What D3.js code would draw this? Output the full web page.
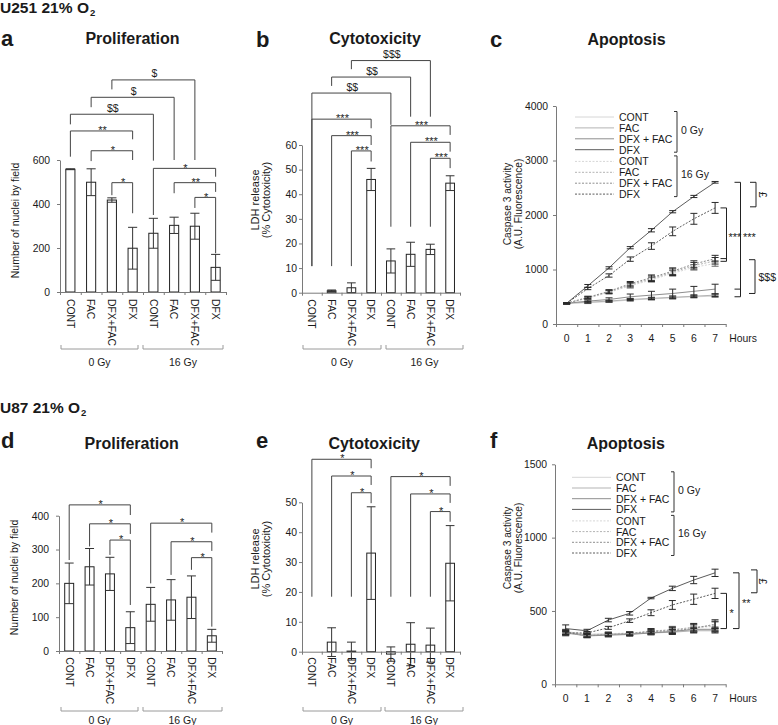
<!DOCTYPE html>
<html>
<head>
<meta charset="utf-8">
<script src="https://cdn.jsdelivr.net/npm/d3@7/dist/d3.min.js"></script>
<style>
html,body{margin:0;padding:0;background:#fff;}
svg{display:block;opacity:0.999;}
text{-webkit-font-smoothing:antialiased;}
</style>
</head>
<body>
<svg id="fig" width="778" height="725"></svg>
<script>
// ================= DATA =================
const categories = ["CONT","FAC","DFX+FAC","DFX","CONT","FAC","DFX+FAC","DFX"];
const doseGroups = ["0 Gy","16 Gy"];
const hours = ["0","1","2","3","4","5","6","7"];
const treatments = ["CONT","FAC","DFX + FAC","DFX"];

// (a) U251 proliferation (nuclei per field)
const prolifU251 = [558, 499, 418, 199, 267, 303, 299, 112];
const prolifU251Err = [2, 61, 10, 95, 68, 37, 59, 59];
const prolifU251Ticks = [0, 200, 400, 600];
// [from, to, level, left leg end, right leg end, label]  (data units)
const prolifU251Sig = [
  [2, 6, 964, 921, 600, "$"],
  [1, 5, 885, 840, 600, "$"],
  [0, 4, 808, 762, 597, "$$"],
  [0, 3, 732, 615, 694, "**"],
  [1, 3, 642, 595, 600, "*"],
  [2, 3, 497, 440, 358, "*"],
  [4, 7, 562, 350, 524, "*"],
  [5, 7, 497, 449, 455, "**"],
  [6, 7, 430, 382, 176, "*"]
];

// (b) U251 cytotoxicity (% LDH release)
const cytoU251 = [0, 0.8, 2, 46, 12.9, 15.6, 17.6, 44.5];
const cytoU251Err = [0, 0.3, 2, 4.5, 4.9, 4.9, 2.1, 3];
const cytoU251Ticks = [0, 10, 20, 30, 40, 50, 60];
const cytoU251Sig = [
  [2, 6, 94.3, 90.8, 71.5, "$$$"],
  [1, 5, 87.6, 84.0, 71.5, "$$"],
  [0, 4, 81.1, 10.8, 68.2, "$$"],
  [0, 3, 70.5, 10.8, 66.8, "***"],
  [1, 3, 63.8, 10.8, 60.0, "***"],
  [2, 3, 57.6, 10.8, 53.3, "***"],
  [4, 7, 67.8, 26.8, 64.1, "***"],
  [5, 7, 61.1, 26.8, 57.3, "***"],
  [6, 7, 54.6, 26.8, 50.6, "***"]
];

// (c) U251 caspase 3 activity
const c0_CONT   = [380, 390, 410, 440, 460, 480, 500, 510];
const c0_FAC    = [380, 400, 420, 450, 470, 490, 510, 530];
const c0_DFXFAC = [380, 420, 450, 500, 530, 560, 600, 640];
const c0_DFX    = [380, 700, 1030, 1400, 1720, 2060, 2340, 2600];
const c16_CONT   = [380, 470, 580, 700, 810, 930, 1040, 1110];
const c16_FAC    = [380, 480, 590, 720, 830, 950, 1070, 1160];
const c16_DFXFAC = [380, 490, 600, 740, 850, 970, 1100, 1200];
const c16_DFX    = [380, 650, 890, 1190, 1430, 1700, 1930, 2130];
const c0_CONT_err   = [10, 15, 15, 20, 20, 20, 20, 20];
const c0_FAC_err    = [10, 15, 15, 20, 20, 25, 25, 25];
const c0_DFXFAC_err = [10, 20, 30, 50, 70, 80, 90, 90];
const c0_DFX_err    = [10, 25, 20, 20, 30, 20, 20, 15];
const c16_CONT_err   = [10, 20, 30, 40, 40, 50, 50, 50];
const c16_FAC_err    = [10, 20, 30, 40, 50, 60, 60, 60];
const c16_DFXFAC_err = [10, 20, 30, 40, 50, 60, 60, 60];
const c16_DFX_err    = [10, 20, 30, 40, 60, 80, 100, 100];
const casU251Ticks = [0, 1000, 2000, 3000, 4000];
const casU251Sig = [
  [[2130, 1200, 1150], "***"],
  [[2600, 640, 500], "***"],
  [[2600, 2150], "£"],
  [[1180, 560], "$$$"]
];

// (d) U87 proliferation
const prolifU87 = [200, 249, 228, 69, 138, 151, 159, 45];
const prolifU87Err = [60, 54, 49, 47, 50, 60, 63, 19];
const prolifU87Ticks = [0, 100, 200, 300, 400];
const prolifU87Sig = [
  [0, 3, 432, 269, 402, "*"],
  [1, 3, 376, 309, 346, "*"],
  [2, 3, 328, 284, 136, "*"],
  [4, 7, 378, 200, 350, "*"],
  [5, 7, 323, 225, 296, "*"],
  [6, 7, 276, 240, 72, "*"]
];

// (e) U87 cytotoxicity
const cytoU87 = [0, 3.2, 0.2, 33, -0.8, 2.5, 2.2, 29.6];
const cytoU87Err = [0, 4.8, 3, 15.5, 2.4, 7.2, 5.7, 12.6];
const cytoU87Ticks = [0, 10, 20, 30, 40, 50];
const cytoU87Sig = [
  [0, 3, 64.4, 18.4, 61.4, "*"],
  [1, 3, 58.8, 18.4, 55.8, "*"],
  [2, 3, 53.2, 18.4, 49.7, "*"],
  [4, 7, 58.6, 18.4, 55.5, "*"],
  [5, 7, 52.8, 18.4, 49.8, "*"],
  [6, 7, 46.9, 18.4, 43.5, "*"]
];

// (f) U87 caspase 3 activity
const f0_CONT   = [360, 340, 345, 345, 355, 360, 370, 370];
const f0_FAC    = [355, 335, 340, 345, 350, 355, 365, 365];
const f0_DFXFAC = [350, 330, 335, 340, 350, 360, 375, 375];
const f0_DFX    = [380, 365, 438, 484, 588, 654, 711, 760];
const f16_CONT   = [345, 340, 345, 350, 360, 375, 385, 395];
const f16_FAC    = [350, 335, 340, 345, 365, 370, 390, 400];
const f16_DFXFAC = [355, 330, 340, 345, 360, 365, 380, 410];
const f16_DFX    = [350, 350, 385, 434, 488, 541, 580, 620];
const f0_CONT_err   = [15, 12, 12, 12, 12, 15, 15, 15];
const f0_FAC_err    = [15, 12, 12, 12, 12, 15, 15, 15];
const f0_DFXFAC_err = [15, 12, 12, 12, 12, 15, 15, 15];
const f0_DFX_err    = [25, 10, 12, 12, 5, 15, 25, 25];
const f16_CONT_err   = [15, 12, 10, 10, 15, 20, 25, 30];
const f16_FAC_err    = [15, 12, 10, 10, 15, 20, 25, 30];
const f16_DFXFAC_err = [15, 12, 10, 10, 15, 20, 25, 30];
const f16_DFX_err    = [10, 10, 10, 12, 20, 30, 35, 35];
const casU87Ticks = [0, 500, 1000, 1500];
const casU87Sig = [
  [[620, 380], "*"],
  [[760, 380], "**"],
  [[780, 624], "£"]
];

// ================= DRAWING =================
const svg = d3.select("#fig");
const FONT = "'Liberation Sans', Arial, Helvetica, sans-serif";
const AXIS = "#7a7a7a";
const INK = "#1a1a1a";
const fmt = d3.format("d");

function txt(x, y, s, o = {}) {
  const t = svg.append("text").attr("x", x).attr("y", y).text(s)
    .attr("font-family", FONT).attr("font-size", o.size || 10.5)
    .attr("fill", o.fill || INK).attr("text-anchor", o.anchor || "start");
  if (o.weight) t.attr("font-weight", o.weight);
  if (o.rot) t.attr("transform", `rotate(${o.rot},${x},${y})`);
  if (o.base) t.attr("dominant-baseline", o.base);
  if (o.dy) t.attr("dy", o.dy);
  if (o.len) t.attr("textLength", o.len).attr("lengthAdjust", "spacingAndGlyphs");
  return t;
}
function styleAxis(sel, size) {
  sel.attr("font-family", FONT).attr("font-size", size || 10.4);
  sel.select(".domain").attr("stroke", AXIS);
  sel.selectAll(".tick line").attr("stroke", AXIS);
  sel.selectAll(".tick text").attr("fill", INK);
}

// headers
function header(y, main, len) {
  txt(0, y, main, { size: 15, weight: "bold", len: len });
  txt(len + 1, y + 3, "2", { size: 9.5, weight: "bold" });
}
header(12.5, "U251 21% O", 89);
header(413, "U87 21% O", 80);

// panel letters & titles
[["a", 1, 46], ["b", 256, 46.5], ["c", 490, 46.5], ["d", 1, 447.5], ["e", 256, 448], ["f", 490, 448]]
  .forEach(([l, x, y]) => txt(x, y, l, { size: 22, weight: "bold" }));
[["Proliferation", 132.5, 44], ["Cytotoxicity", 375, 44], ["Apoptosis", 626.5, 44.5],
 ["Proliferation", 131.7, 448.5], ["Cytotoxicity", 374.2, 448.5], ["Apoptosis", 625.8, 449]]
  .forEach(([s, x, y]) => txt(x, y, s, { size: 16, weight: "bold", anchor: "middle" }));

function barPanel(p) {
  const n = p.values.length;
  const y = d3.scaleLinear().domain([0, p.max]).range([p.base, p.top]);
  const xb = d3.scaleBand().domain(d3.range(n)).range([p.x0, p.x1]).paddingInner(0.56).paddingOuter(0.28);
  const xe = d3.scaleLinear().domain([0, n]).range([p.x0, p.x1]);
  const cx = i => xb(i) + xb.bandwidth() / 2;
  const hw = xb.bandwidth() / 2;
  const g = svg.append("g");

  g.selectAll(null).data(p.values).join("rect")
    .attr("x", (d, i) => xb(i)).attr("width", xb.bandwidth())
    .attr("y", d => Math.min(y(d), y(0))).attr("height", d => Math.abs(y(d) - y(0)))
    .attr("fill", "#fff").attr("stroke", "#222").attr("stroke-width", 1);

  g.selectAll(null).data(p.values).join("path")
    .attr("d", (d, i) => {
      const e = p.errs[i]; if (!e) return null;
      const a = y(d + e), b = y(d - e), c = cx(i);
      return `M${c},${a}V${b}M${c - hw},${a}H${c + hw}M${c - hw},${b}H${c + hw}`;
    })
    .attr("stroke", "#333").attr("fill", "none");

  const ya = g.append("g").attr("transform", `translate(${p.x0},0)`)
    .call(d3.axisLeft(y).tickValues(p.ticks).tickFormat(fmt).tickSize(3).tickSizeOuter(0).tickPadding(p.tickPad));
  const xa = g.append("g").attr("transform", `translate(0,${p.base})`)
    .call(d3.axisBottom(xe).tickValues(d3.range(n + 1)).tickFormat("").tickSize(3).tickSizeOuter(0));
  const xl = g.append("g").attr("transform", `translate(0,${p.base})`)
    .call(d3.axisBottom(xb).tickFormat(i => categories[i]).tickSize(0));
  xl.select(".domain").remove();
  xl.selectAll("text").attr("transform", "rotate(90)").attr("x", p.labGap).attr("y", 0)
    .attr("dy", "0.35em").attr("text-anchor", "start");
  styleAxis(ya, 10.4); styleAxis(xa); styleAxis(xl, 10.4);

  p.sig.forEach(([i, j, lv, le, re, lab]) => {
    const a = cx(i), b = cx(j);
    g.append("path").attr("d", `M${a},${y(le)}V${y(lv)}H${b}V${y(re)}`)
      .attr("fill", "none").attr("stroke", "#444");
    const star = lab.includes("*");
    txt((a + b) / 2 + 1, star ? y(lv) + 3.2 : y(lv) - 2.5, lab, { anchor: "middle", size: star ? 11 : 10.5 });
  });

  p.groups.forEach(([a, b], k) => {
    g.append("path").attr("d", `M${a},${p.gy - 4}V${p.gy}H${b}V${p.gy - 4}`)
      .attr("fill", "none").attr("stroke", "#9a9a9a");
    txt((a + b) / 2, p.gly, doseGroups[k], { anchor: "middle", size: 10.5 });
  });
  p.titles.forEach(([s, x, yy, sz]) => txt(x, yy, s, { anchor: "middle", base: "central", rot: -90, size: sz }));
}

barPanel({ values: prolifU251, errs: prolifU251Err, ticks: prolifU251Ticks, sig: prolifU251Sig,
  max: 600, x0: 60, x1: 226, base: 292, top: 160, tickPad: 7, labGap: 7,
  groups: [[61, 138], [143, 223]], gy: 349, gly: 365.5,
  titles: [["Number of nuclei by field", 15, 220.5, 10.5]] });

barPanel({ values: cytoU251, errs: cytoU251Err, ticks: cytoU251Ticks, sig: cytoU251Sig,
  max: 60, x0: 302, x1: 460, base: 292.7, top: 145, tickPad: 2, labGap: 6.5,
  groups: [[303, 381], [386, 463]], gy: 349, gly: 365.5,
  titles: [["LDH release", 255, 200, 11], ["(% Cytotoxicity)", 265.5, 200, 11]] });

barPanel({ values: prolifU87, errs: prolifU87Err, ticks: prolifU87Ticks, sig: prolifU87Sig,
  max: 400, x0: 59, x1: 222, base: 651, top: 515.7, tickPad: 7, labGap: 6.3,
  groups: [[61, 138], [143, 222]], gy: 711, gly: 724,
  titles: [["Number of nuclei by field", 13.5, 577.5, 10.5]] });

barPanel({ values: cytoU87, errs: cytoU87Err, ticks: cytoU87Ticks, sig: cytoU87Sig,
  max: 50, x0: 302, x1: 460, base: 651.7, top: 502.3, tickPad: 2, labGap: 5.6,
  groups: [[303, 381], [385, 463]], gy: 711, gly: 724,
  titles: [["LDH release", 255, 559, 11], ["(% Cytotoxicity)", 265.5, 559, 11]] });

const greys = ["#d6d6d6", "#b3b3b3", "#8e8e8e", "#5c5c5c"];

function linePanel(p) {
  const n = hours.length;
  const y = d3.scaleLinear().domain([0, p.max]).range([p.base, p.top]);
  const xb = d3.scaleBand().domain(hours).range([p.x0, p.x1]);
  const xe = d3.scaleLinear().domain([0, n]).range([p.x0, p.x1]);
  const cx = i => xb(hours[i]) + xb.bandwidth() / 2;
  const g = svg.append("g");

  const line = d3.line().x((d, i) => cx(i)).y(d => y(d));
  p.series.forEach((s, k) => {
    g.append("path").datum(s.vals).attr("d", line).attr("fill", "none")
      .attr("stroke", greys[k % 4]).attr("stroke-width", 1)
      .attr("stroke-dasharray", k >= 4 ? "2,1.5" : null);
  });
  p.series.forEach((s, k) => {
    g.selectAll(null).data(s.vals).join("path")
      .attr("d", (d, i) => {
        const e = s.errs[i], a = y(d + e), b = y(d - e), c = cx(i);
        return `M${c},${a}V${b}M${c - 3.5},${a}H${c + 3.5}M${c - 3.5},${b}H${c + 3.5}`;
      })
      .attr("stroke", k % 4 === 0 ? "#666" : "#2a2a2a").attr("fill", "none").attr("stroke-width", 1);
  });

  const ya = g.append("g").attr("transform", `translate(${p.x0},0)`)
    .call(d3.axisLeft(y).tickValues(p.ticks).tickFormat(fmt).tickSize(3).tickSizeOuter(0).tickPadding(5));
  const xa = g.append("g").attr("transform", `translate(0,${p.base})`)
    .call(d3.axisBottom(xe).tickValues(d3.range(n + 1)).tickFormat("").tickSize(3).tickSizeOuter(0));
  const xl = g.append("g").attr("transform", `translate(0,${p.base})`)
    .call(d3.axisBottom(xb).tickSize(0).tickPadding(p.xPad));
  xl.select(".domain").remove();
  styleAxis(ya, 10.4); styleAxis(xa); styleAxis(xl, 10.4);
  txt(p.x1 + 3.5, p.base + 17.6, "Hours", { size: 10.4 });

  // legend
  p.series.forEach((s, k) => {
    const ly = p.legY + k * p.legStep + (k >= 4 ? 0.8 : 0);
    g.append("line").attr("x1", p.legX).attr("x2", p.legX + 39).attr("y1", ly).attr("y2", ly)
      .attr("stroke", greys[k % 4]).attr("stroke-dasharray", k >= 4 ? "2,1.5" : null);
    txt(p.legX + 44, ly, treatments[k % 4], { size: 10.5, base: "central" });
  });
  [[0, 3], [4, 7]].forEach(([r0, r1], k) => {
    const ya_ = p.legY + r0 * p.legStep + (r0 >= 4 ? 0.8 : 0) - 5.5;
    const yb_ = p.legY + r1 * p.legStep + (r1 >= 4 ? 0.8 : 0) + 2.5;
    const bx = p.legX + 102;
    g.append("path").attr("d", `M${bx - 3},${ya_}H${bx}V${yb_}H${bx - 3}`).attr("fill", "none").attr("stroke", "#333");
    txt(bx + 4, (ya_ + yb_) / 2 - 2, doseGroups[k], { size: 10.5, base: "central" });
  });

  // significance brackets (ticks pointing left)
  p.sig.forEach(([ticks, lab], k) => {
    const L = p.sigLayout[k];
    const hi = d3.max(ticks), lo = d3.min(ticks);
    let d = `M${L.x},${y(hi)}V${y(lo)}`;
    ticks.forEach(t => { d += `M${L.x - 6},${y(t)}H${L.x}`; });
    g.append("path").attr("d", d).attr("fill", "none").attr("stroke", "#222");
    const ly = L.ly !== undefined ? y(L.ly) : y((hi + lo) / 2);
    if (lab === "£") txt(L.lx, ly, lab, { size: 10.5, anchor: "middle", base: "central", rot: 90 });
    else if (lab.includes("*")) txt(L.lx, ly, lab, { size: 11, anchor: "start", dy: "0.55em" });
    else txt(L.lx, ly, lab, { size: 10.5, anchor: "start", base: "central" });
  });

  p.titles.forEach(([s, x, yy]) => txt(x, yy, s, { anchor: "middle", base: "central", rot: -90, size: 10.2 }));
}

linePanel({
  series: [
    { vals: c0_CONT, errs: c0_CONT_err }, { vals: c0_FAC, errs: c0_FAC_err },
    { vals: c0_DFXFAC, errs: c0_DFXFAC_err }, { vals: c0_DFX, errs: c0_DFX_err },
    { vals: c16_CONT, errs: c16_CONT_err }, { vals: c16_FAC, errs: c16_FAC_err },
    { vals: c16_DFXFAC, errs: c16_DFXFAC_err }, { vals: c16_DFX, errs: c16_DFX_err }
  ],
  max: 4000, ticks: casU251Ticks, x0: 556, x1: 725.7, base: 324, top: 106, xPad: 10.6,
  legX: 575, legY: 117, legStep: 10.9,
  sig: casU251Sig,
  sigLayout: [{ x: 726.5, lx: 728.5, ly: 1640 }, { x: 740.5, lx: 743, ly: 1640 }, { x: 756, lx: 763 }, { x: 755, lx: 758.5 }],
  titles: [["Caspase 3 activity", 507, 204], ["(A.U. Fluorescence)", 518, 204]]
});

linePanel({
  series: [
    { vals: f0_CONT, errs: f0_CONT_err }, { vals: f0_FAC, errs: f0_FAC_err },
    { vals: f0_DFXFAC, errs: f0_DFXFAC_err }, { vals: f0_DFX, errs: f0_DFX_err },
    { vals: f16_CONT, errs: f16_CONT_err }, { vals: f16_FAC, errs: f16_FAC_err },
    { vals: f16_DFXFAC, errs: f16_DFXFAC_err }, { vals: f16_DFX, errs: f16_DFX_err }
  ],
  max: 1500, ticks: casU87Ticks, x0: 555, x1: 725.7, base: 684.3, top: 464.3, xPad: 10.3,
  legX: 572, legY: 477.3, legStep: 10.7,
  sig: casU87Sig,
  sigLayout: [{ x: 726.5, lx: 729.5 }, { x: 739, lx: 742 }, { x: 757, lx: 763 }],
  titles: [["Caspase 3 activity", 507, 548], ["(A.U. Fluorescence)", 518, 548]]
});
</script>
</body>
</html>
